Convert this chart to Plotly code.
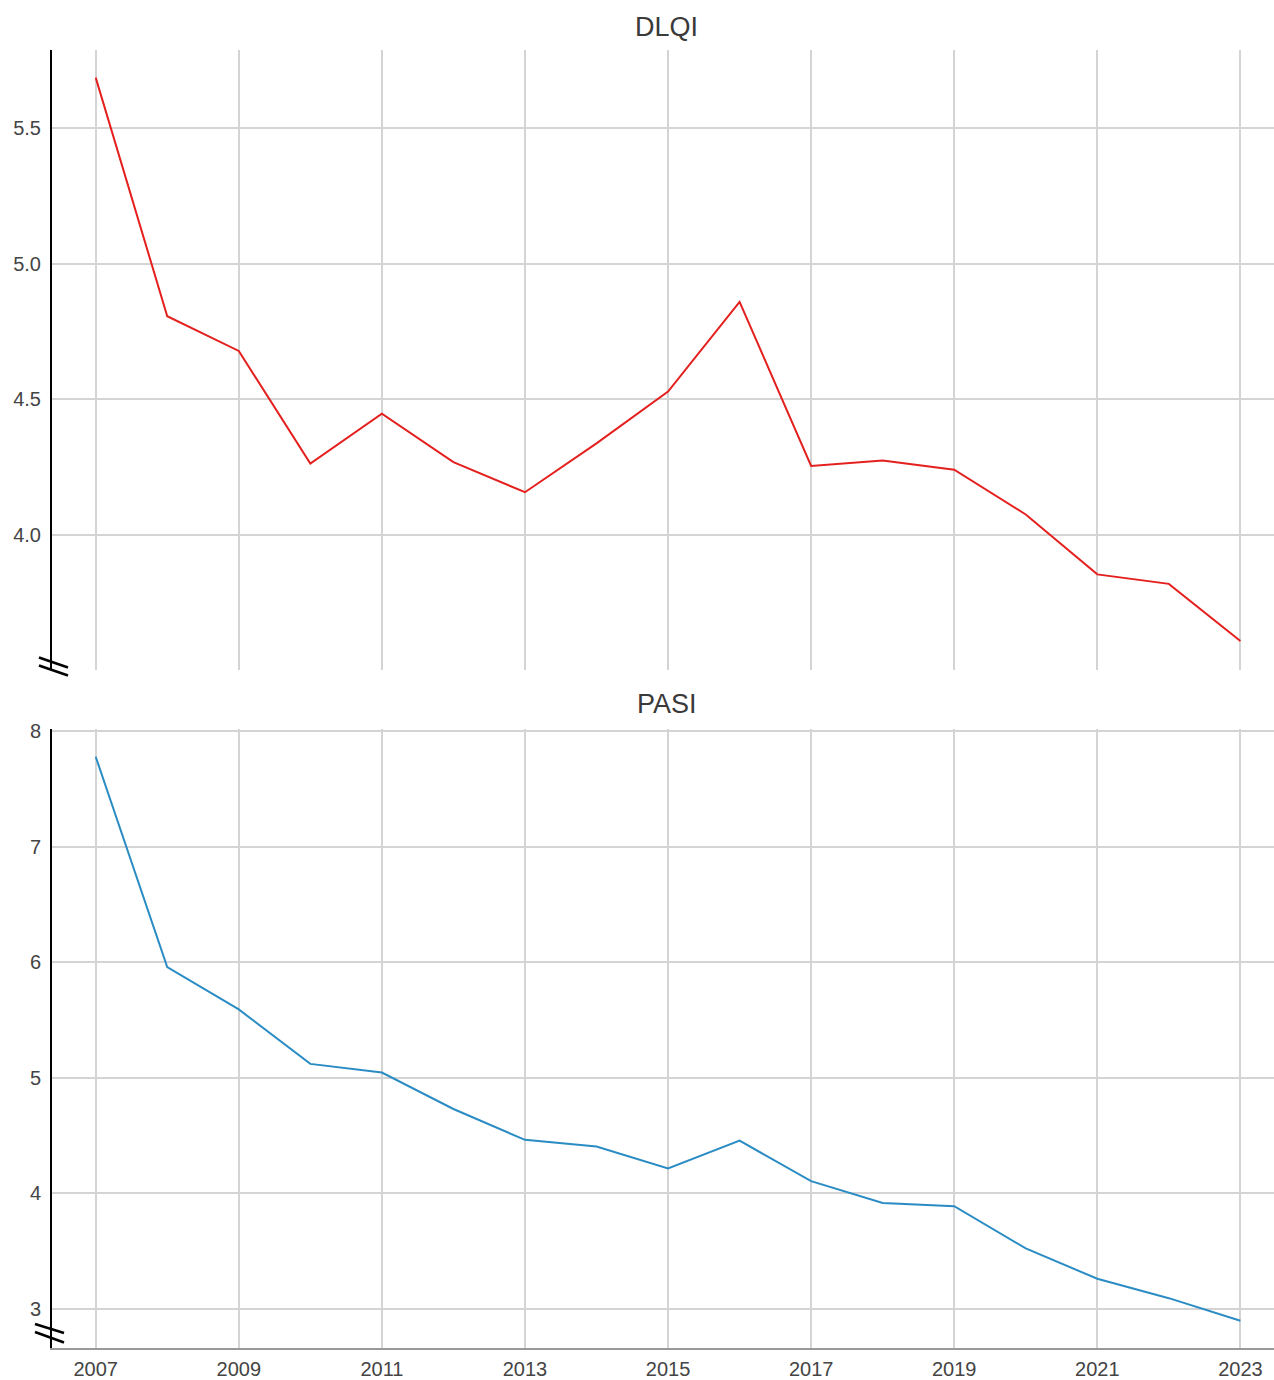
import plotly.graph_objects as go

years = list(range(2007, 2024))
dlqi = [5.686, 4.806, 4.678, 4.263, 4.447, 4.268, 4.157, 4.337, 4.528,
        4.859, 4.254, 4.274, 4.240, 4.075, 3.854, 3.819, 3.608]
pasi = [7.776, 5.957, 5.591, 5.120, 5.045, 4.730, 4.463, 4.406, 4.215,
        4.456, 4.106, 3.917, 3.889, 3.524, 3.262, 3.094, 2.899]
x_ticks = list(range(2007, 2024, 2))
dlqi_ticks = [4.0, 4.5, 5.0, 5.5]
dlqi_labels = ["4.0", "4.5", "5.0", "5.5"]
pasi_ticks = [3, 4, 5, 6, 7, 8]
titles = ["DLQI", "PASI"]

RED = "#e4201e"
BLUE = "#2b8cc4"
GRID = "#d4d4d4"
TXT = "#444444"
FONT = "Liberation Sans, Arial, sans-serif"

fig = go.Figure()
fig.add_trace(go.Scatter(x=years, y=dlqi, mode="lines", line=dict(color=RED, width=2),
                         xaxis="x", yaxis="y", showlegend=False))
fig.add_trace(go.Scatter(x=years, y=pasi, mode="lines", line=dict(color=BLUE, width=2),
                         xaxis="x2", yaxis="y2", showlegend=False))

xr = [2006.389, 2023.47]
common_x = dict(range=xr, tickvals=x_ticks, showgrid=True, gridcolor=GRID, gridwidth=2,
                zeroline=False, ticks="", tickfont=dict(size=20, color=TXT, family=FONT))

top_dom = [0.5227, 1.0]
bot_dom = [0.0, 0.4766]

fig.update_layout(
    width=1274, height=1380,
    margin=dict(l=52, r=0, t=50, b=26),
    paper_bgcolor="white", plot_bgcolor="white",
    font=dict(family=FONT, color=TXT),
    xaxis=dict(**common_x, anchor="y", showticklabels=False, showline=False, matches="x2"),
    xaxis2=dict(**common_x, anchor="y2", showticklabels=True, showline=True,
                linecolor="#999999", linewidth=2, ticklabelstandoff=2),
    yaxis=dict(domain=top_dom, range=[3.503, 5.788], tickvals=dlqi_ticks, ticktext=dlqi_labels,
               showgrid=True, gridcolor=GRID, gridwidth=2, zeroline=False, ticks="",
               showline=True, linecolor="black", linewidth=2, anchor="x",
               tickfont=dict(size=20, color=TXT, family=FONT), ticklabelstandoff=5),
    yaxis2=dict(domain=bot_dom, range=[2.663, 8.013], tickvals=pasi_ticks,
                showgrid=True, gridcolor=GRID, gridwidth=2, zeroline=False, ticks="",
                showline=True, linecolor="black", linewidth=2, anchor="x2",
                tickfont=dict(size=20, color=TXT, family=FONT), ticklabelstandoff=5),
)

# subplot titles
fig.add_annotation(text=titles[0], xref="paper", yref="paper", x=0.503, y=(1354 - 26.5) / 1304,
                   xanchor="center", yanchor="middle", showarrow=False,
                   font=dict(size=27, color="#3a3a3a", family=FONT))
fig.add_annotation(text=titles[1], xref="paper", yref="paper", x=0.503, y=(1354 - 707) / 1304,
                   xanchor="center", yanchor="middle", showarrow=False,
                   font=dict(size=27, color="#3a3a3a", family=FONT))

# axis break markers
def brk(xref, yref, offs):
    for (xa, ya, xb, yb) in offs:
        fig.add_shape(type="line", xref=xref, yref=yref, xsizemode="pixel", ysizemode="pixel",
                      xanchor=0, yanchor=0, x0=xa, y0=ya, x1=xb, y1=yb,
                      line=dict(color="black", width=2.5), layer="above")

brk("x domain", "y domain", [(-13, 12, 16, 2), (-13, 4, 16, -6)])
brk("x2 domain", "y2 domain", [(-17, 24, 12, 15), (-17, 16, 12, 5.5)])

fig.write_html("out.html", config={"displayModeBar": False})

with open("out.html", "r", encoding="utf-8") as f:
    html = f.read()
html = html.replace("<head>", "<head><style>html,body{margin:0;padding:0;overflow:hidden;}</style>", 1)
with open("out.html", "w", encoding="utf-8") as f:
    f.write(html)
